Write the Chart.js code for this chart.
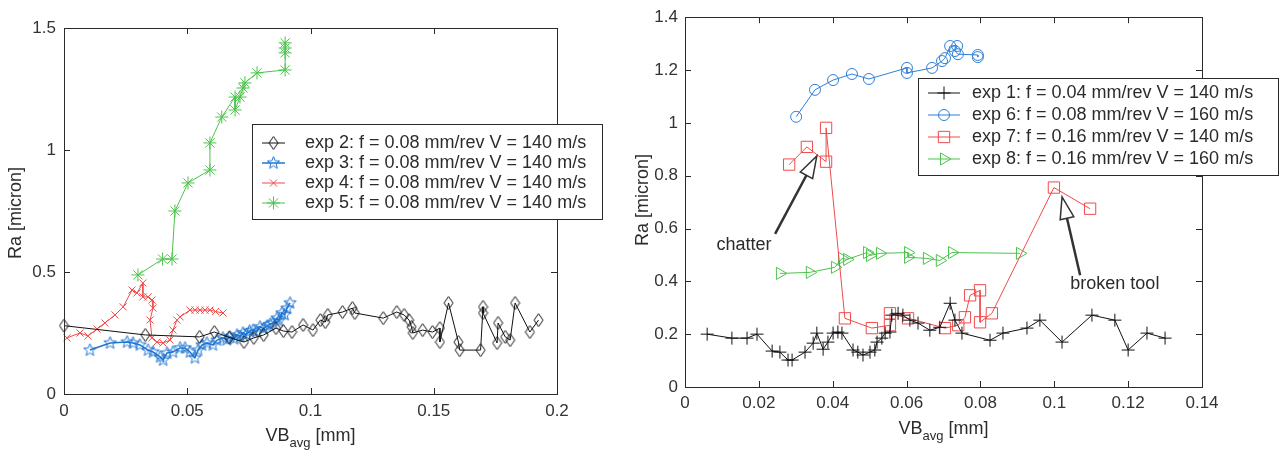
<!DOCTYPE html>
<html>
<head>
<meta charset="utf-8">
<script src="https://cdn.jsdelivr.net/npm/chart.js@4.4.1/dist/chart.umd.min.js"></script>
<style>
  body { margin: 0; background: #fff; }
  #wrap { position: relative; width: 1284px; height: 452px; }
  canvas { position: absolute; top: 0; }
  #leftChart { left: 0; }
  #rightChart { left: 630px; }
</style>
</head>
<body>
<div id="wrap">
  <canvas id="leftChart" width="630" height="452"></canvas>
  <canvas id="rightChart" width="654" height="452"></canvas>
</div>
<script>
const FONT = '"Liberation Sans", Arial, sans-serif';
const INK = '#2b2b2b';

// ---- left panel: Ra vs flank wear, exp 2..5 ----
const exp2VB = [0, 0.033, 0.055, 0.061, 0.067, 0.073, 0.077, 0.081, 0.086, 0.089, 0.0925, 0.097, 0.101, 0.104, 0.106, 0.107, 0.113, 0.117, 0.118, 0.1295, 0.135, 0.138, 0.140, 0.141, 0.1415, 0.1455, 0.1495, 0.1525, 0.1525, 0.156, 0.160, 0.1605, 0.169, 0.170, 0.170, 0.1757, 0.1761, 0.179, 0.181, 0.183, 0.189, 0.1925];
const exp2Ra = [0.28, 0.242, 0.234, 0.254, 0.232, 0.213, 0.23, 0.242, 0.27, 0.258, 0.254, 0.283, 0.262, 0.303, 0.295, 0.324, 0.336, 0.352, 0.332, 0.311, 0.336, 0.324, 0.303, 0.275, 0.25, 0.262, 0.254, 0.27, 0.213, 0.373, 0.213, 0.18, 0.18, 0.357, 0.332, 0.209, 0.291, 0.234, 0.221, 0.373, 0.254, 0.303];

const exp3VB = [0.0105, 0.0187, 0.0256, 0.028, 0.0308, 0.0341, 0.0361, 0.039, 0.0402, 0.0418, 0.0442, 0.0471, 0.0491, 0.0511, 0.0531, 0.0544, 0.056, 0.058, 0.0604, 0.0621, 0.0645, 0.066, 0.0673, 0.069, 0.0702, 0.0715, 0.0726, 0.074, 0.0753, 0.0767, 0.0781, 0.0795, 0.081, 0.0824, 0.0836, 0.0848, 0.0864, 0.0872, 0.0884, 0.0895, 0.0905, 0.0917];
const exp3Ra = [0.18, 0.209, 0.213, 0.209, 0.201, 0.18, 0.172, 0.152, 0.139, 0.168, 0.172, 0.189, 0.189, 0.172, 0.148, 0.18, 0.201, 0.209, 0.201, 0.221, 0.23, 0.222, 0.234, 0.226, 0.242, 0.236, 0.25, 0.244, 0.258, 0.262, 0.255, 0.275, 0.268, 0.279, 0.286, 0.291, 0.311, 0.3, 0.332, 0.325, 0.352, 0.373];

const exp4VB = [0.0012, 0.0065, 0.0097, 0.0134, 0.0166, 0.0207, 0.024, 0.0276, 0.0296, 0.032, 0.032, 0.0341, 0.0357, 0.0361, 0.0349, 0.0357, 0.0377, 0.0402, 0.043, 0.0442, 0.0458, 0.0471, 0.0511, 0.0532, 0.0552, 0.0572, 0.0592, 0.0615, 0.0645];
const exp4Ra = [0.23, 0.25, 0.238, 0.266, 0.291, 0.324, 0.357, 0.426, 0.414, 0.455, 0.398, 0.398, 0.385, 0.352, 0.303, 0.23, 0.213, 0.209, 0.221, 0.262, 0.303, 0.316, 0.344, 0.344, 0.344, 0.344, 0.344, 0.338, 0.332];

const exp5VB = [0.030, 0.040, 0.0438, 0.045, 0.0503, 0.0592, 0.0592, 0.064, 0.0694, 0.0694, 0.0714, 0.0726, 0.0734, 0.0783, 0.0897, 0.0897, 0.0897, 0.0897];
const exp5Ra = [0.488, 0.553, 0.553, 0.75, 0.865, 0.918, 1.029, 1.135, 1.217, 1.164, 1.217, 1.254, 1.275, 1.316, 1.328, 1.398, 1.418, 1.439];

const leftXTicks = [0, 0.05, 0.1, 0.15, 0.2];
const leftXLabels = ['0', '0.05', '0.1', '0.15', '0.2'];
const leftYTicks = [0, 0.5, 1, 1.5];
const leftYLabels = ['0', '0.5', '1', '1.5'];
const leftNames = [
  'exp 2: f = 0.08 mm/rev V = 140 m/s',
  'exp 3: f = 0.08 mm/rev V = 140 m/s',
  'exp 4: f = 0.08 mm/rev V = 140 m/s',
  'exp 5: f = 0.08 mm/rev V = 140 m/s'
];

// ---- right panel: exp 1, 6, 7, 8 ----
const exp1VB = [0.006, 0.0127, 0.0168, 0.0195, 0.0236, 0.0257, 0.0279, 0.029, 0.0325, 0.0347, 0.0357, 0.0374, 0.0387, 0.0401, 0.0414, 0.0425, 0.0455, 0.0468, 0.0482, 0.0501, 0.0514, 0.052, 0.0533, 0.0542, 0.0555, 0.056, 0.0577, 0.059, 0.0609, 0.0631, 0.0663, 0.069, 0.0718, 0.0731, 0.075, 0.0826, 0.0861, 0.0926, 0.0961, 0.1021, 0.1102, 0.1164, 0.12, 0.1251, 0.13];
const exp1Ra = [0.2, 0.185, 0.185, 0.2, 0.136, 0.132, 0.102, 0.102, 0.132, 0.166, 0.204, 0.143, 0.17, 0.204, 0.208, 0.204, 0.14, 0.132, 0.121, 0.132, 0.14, 0.17, 0.185, 0.204, 0.208, 0.272, 0.279, 0.272, 0.253, 0.242, 0.215, 0.226, 0.317, 0.253, 0.204, 0.177, 0.204, 0.223, 0.253, 0.17, 0.272, 0.253, 0.14, 0.204, 0.185];

const exp6VB = [0.0301, 0.0352, 0.0401, 0.0452, 0.0498, 0.0601, 0.0601, 0.0669, 0.0696, 0.0704, 0.0718, 0.0737, 0.0731, 0.0739, 0.0793, 0.0793];
const exp6Ra = [1.023, 1.125, 1.162, 1.185, 1.166, 1.208, 1.189, 1.208, 1.234, 1.245, 1.291, 1.291, 1.272, 1.26, 1.257, 1.249];

const exp7VB = [0.0282, 0.033, 0.0382, 0.0382, 0.0433, 0.0506, 0.0555, 0.0555, 0.0604, 0.0704, 0.074, 0.0758, 0.0772, 0.0799, 0.0799, 0.0831, 0.0999, 0.1097];
const exp7Ra = [0.842, 0.909, 0.853, 0.981, 0.26, 0.223, 0.234, 0.279, 0.26, 0.223, 0.234, 0.264, 0.347, 0.366, 0.245, 0.279, 0.755, 0.675];

const exp8VB = [0.0257, 0.0338, 0.0406, 0.0425, 0.0439, 0.0493, 0.0501, 0.0528, 0.0604, 0.0604, 0.0655, 0.069, 0.0723, 0.0907];
const exp8Ra = [0.43, 0.434, 0.453, 0.487, 0.483, 0.509, 0.498, 0.506, 0.509, 0.491, 0.487, 0.479, 0.509, 0.506];

const rightXTicks = [0, 0.02, 0.04, 0.06, 0.08, 0.1, 0.12, 0.14];
const rightXLabels = ['0', '0.02', '0.04', '0.06', '0.08', '0.1', '0.12', '0.14'];
const rightYTicks = [0, 0.2, 0.4, 0.6, 0.8, 1, 1.2, 1.4];
const rightYLabels = ['0', '0.2', '0.4', '0.6', '0.8', '1', '1.2', '1.4'];
const rightNames = [
  'exp 1: f = 0.04 mm/rev V = 140 m/s',
  'exp 6: f = 0.08 mm/rev V = 160 m/s',
  'exp 7: f = 0.16 mm/rev V = 140 m/s',
  'exp 8: f = 0.16 mm/rev V = 160 m/s'
];

// hollow marker glyphs that Chart.js has no built-in style for
function markerCanvas(color, w, h, path) {
  const c = document.createElement('canvas');
  c.width = w; c.height = h;
  const g = c.getContext('2d');
  g.strokeStyle = color;
  g.lineWidth = 1;
  g.beginPath();
  path(g, w / 2, h / 2);
  g.closePath();
  g.stroke();
  return c;
}
const diamond = markerCanvas('#111', 11, 15, (g, cx, cy) => {
  g.moveTo(cx, cy - 6.5); g.lineTo(cx + 4.5, cy); g.lineTo(cx, cy + 6.5); g.lineTo(cx - 4.5, cy);
});
const pentagram = markerCanvas('#1f74d1', 15, 15, (g, cx, cy) => {
  for (let i = 0; i < 10; i++) {
    const r = i % 2 ? 2.8 : 6.5;
    const a = -Math.PI / 2 + i * Math.PI / 5;
    const px = cx + r * Math.cos(a), py = cy + r * Math.sin(a);
    if (i) g.lineTo(px, py); else g.moveTo(px, py);
  }
});

const pts = (xs, ys) => xs.map((x, i) => ({ x, y: ys[i] }));

function series(label, xs, ys, color, pointStyle, radius, extra) {
  return Object.assign({
    label,
    data: pts(xs, ys),
    showLine: true,
    borderColor: color,
    borderWidth: 1,
    pointStyle,
    pointRadius: radius,
    pointBorderColor: color,
    pointBackgroundColor: 'rgba(0,0,0,0)',
    pointBorderWidth: 1,
    clip: false
  }, extra || {});
}

function axis(min, max, ticks, labels, pad, size) {
  return {
    type: 'linear',
    min, max,
    afterBuildTicks: s => { s.ticks = ticks.map(v => ({ value: v })); },
    afterFit: s => { if (s.isHorizontal()) s.height = size; else s.width = size; },
    ticks: {
      autoSkip: false, maxRotation: 0, padding: pad, color: '#333',
      font: { family: FONT, size: 17 },
      callback: (v, i) => labels[i]
    },
    grid: { display: false, drawTicks: false },
    border: { display: false }
  };
}

// box, inward ticks, legend, notes and axis titles, MATLAB style
const decor = {
  id: 'decor',
  afterDraw(chart, args, o) {
    const { ctx, chartArea: a, scales: { x, y } } = chart;
    ctx.save();
    ctx.strokeStyle = INK;
    ctx.lineWidth = 1;
    ctx.strokeRect(Math.round(a.left) + 0.5, Math.round(a.top) + 0.5,
      Math.round(a.right - a.left), Math.round(a.bottom - a.top));
    ctx.beginPath();
    x.ticks.forEach(t => {
      const p = Math.round(x.getPixelForValue(t.value)) + 0.5;
      ctx.moveTo(p, a.bottom); ctx.lineTo(p, a.bottom - 6);
      ctx.moveTo(p, a.top); ctx.lineTo(p, a.top + 6);
    });
    y.ticks.forEach(t => {
      const p = Math.round(y.getPixelForValue(t.value)) + 0.5;
      ctx.moveTo(a.left, p); ctx.lineTo(a.left + 6, p);
      ctx.moveTo(a.right, p); ctx.lineTo(a.right - 6, p);
    });
    ctx.stroke();

    // text notes with open-headed arrows
    (o.notes || []).forEach(n => {
      const tx = x.getPixelForValue(n.tail[0]), ty = y.getPixelForValue(n.tail[1]);
      const hx = x.getPixelForValue(n.tip[0]), hy = y.getPixelForValue(n.tip[1]);
      const len = Math.hypot(hx - tx, hy - ty);
      const ux = (hx - tx) / len, uy = (hy - ty) / len;
      const bx = hx - ux * 22, by = hy - uy * 22;
      ctx.strokeStyle = '#333';
      ctx.lineWidth = 2.5;
      ctx.beginPath(); ctx.moveTo(tx, ty); ctx.lineTo(bx, by); ctx.stroke();
      ctx.beginPath();
      ctx.moveTo(hx, hy);
      ctx.lineTo(bx - uy * 7, by + ux * 7);
      ctx.lineTo(bx + uy * 7, by - ux * 7);
      ctx.closePath();
      ctx.fillStyle = '#fff'; ctx.fill();
      ctx.lineWidth = 1.5; ctx.stroke();
      ctx.fillStyle = INK;
      ctx.font = '18px ' + FONT;
      ctx.textAlign = 'center'; ctx.textBaseline = 'middle';
      ctx.fillText(n.text, x.getPixelForValue(n.at[0]), y.getPixelForValue(n.at[1]));
    });

    // legend box
    const L = o.legend;
    ctx.fillStyle = '#fff';
    ctx.fillRect(L.x, L.y, L.w, L.h);
    ctx.strokeStyle = INK; ctx.lineWidth = 1;
    ctx.strokeRect(L.x + 0.5, L.y + 0.5, L.w, L.h);
    chart.data.datasets.forEach((ds, i) => {
      const cy = L.y + L.first + i * L.step;
      const x0 = L.x + L.line[0], x1 = L.x + L.line[1];
      ctx.strokeStyle = ds.borderColor;
      ctx.lineWidth = ds.borderWidth;
      ctx.beginPath(); ctx.moveTo(x0, cy); ctx.lineTo(x1, cy); ctx.stroke();
      ctx.lineWidth = 1;
      ctx.fillStyle = 'rgba(0,0,0,0)';
      Chart.helpers.drawPoint(ctx, {
        pointStyle: ds.pointStyle, rotation: ds.pointRotation || 0,
        radius: ds.pointRadius, borderWidth: 1
      }, (x0 + x1) / 2, cy);
      ctx.fillStyle = INK;
      ctx.font = '18px ' + FONT;
      ctx.textAlign = 'left'; ctx.textBaseline = 'middle';
      ctx.fillText(ds.label, L.x + L.text, cy);
    });

    // axis titles: VB with "avg" subscript, rotated Ra
    ctx.fillStyle = INK;
    ctx.textAlign = 'left'; ctx.textBaseline = 'alphabetic';
    const big = '18px ' + FONT, small = '13px ' + FONT;
    ctx.font = big; const w1 = ctx.measureText('VB').width, w3 = ctx.measureText(' [mm]').width;
    ctx.font = small; const w2 = ctx.measureText('avg').width;
    let sx = (a.left + a.right) / 2 - (w1 + w2 + w3) / 2;
    ctx.font = big; ctx.fillText('VB', sx, o.xTitleY);
    ctx.font = small; ctx.fillText('avg', sx + w1, o.xTitleY + 6);
    ctx.font = big; ctx.fillText(' [mm]', sx + w1 + w2, o.xTitleY);

    ctx.translate(o.yTitleX, o.yTitleY);
    ctx.rotate(-Math.PI / 2);
    ctx.textAlign = 'center'; ctx.textBaseline = 'middle';
    ctx.fillText('Ra [micron]', 0, 0);
    ctx.restore();
  }
};

function panel(id, datasets, xs, ys, padding, plug) {
  return new Chart(document.getElementById(id), {
    type: 'scatter',
    data: { datasets },
    options: {
      responsive: false,
      animation: false,
      layout: { padding },
      scales: { x: xs, y: ys },
      plugins: { legend: { display: false }, tooltip: { enabled: false }, decor: plug }
    },
    plugins: [decor]
  });
}

panel('leftChart', [
  series(leftNames[0], exp2VB, exp2Ra, '#111111', diamond, 7),
  series(leftNames[1], exp3VB, exp3Ra, '#1f74d1', pentagram, 7, { borderWidth: 1.5 }),
  series(leftNames[2], exp4VB, exp4Ra, '#f04a4a', 'crossRot', 5),
  series(leftNames[3], exp5VB, exp5Ra, '#4cc44c', 'star', 6.5)
],
  axis(0, 0.2, leftXTicks, leftXLabels, 7, 58),
  axis(0, 1.5, leftYTicks, leftYLabels, 8, 64),
  { left: 0, top: 28, right: 73, bottom: 0 },
  {
    legend: { x: 252, y: 124, w: 350, h: 95, first: 19, step: 20, line: [10, 33], text: 53 },
    xTitleY: 441, yTitleX: 16, yTitleY: 213
  });

panel('rightChart', [
  series(rightNames[0], exp1VB, exp1Ra, '#111111', 'cross', 6.5),
  series(rightNames[1], exp6VB, exp6Ra, '#2f7fd6', 'circle', 5.5),
  series(rightNames[2], exp7VB, exp7Ra, '#f04a4a', 'rect', 8),
  series(rightNames[3], exp8VB, exp8Ra, '#4cc44c', 'triangle', 7, { pointRotation: 90 })
],
  axis(0, 0.14, rightXTicks, rightXLabels, 6, 65),
  axis(0, 1.4, rightYTicks, rightYLabels, 7, 55),
  { left: 0, top: 16, right: 82, bottom: 0 },
  {
    legend: { x: 288, y: 78, w: 360, h: 97, first: 15, step: 22, line: [10, 42], text: 54 },
    notes: [
      { text: 'chatter', at: [0.016, 0.536], tail: [0.0244, 0.58], tip: [0.0357, 0.875] },
      { text: 'broken tool', at: [0.1164, 0.389], tail: [0.107, 0.423], tip: [0.1021, 0.72] }
    ],
    xTitleY: 434, yTitleX: 13, yTitleY: 200
  });
</script>
</body>
</html>
